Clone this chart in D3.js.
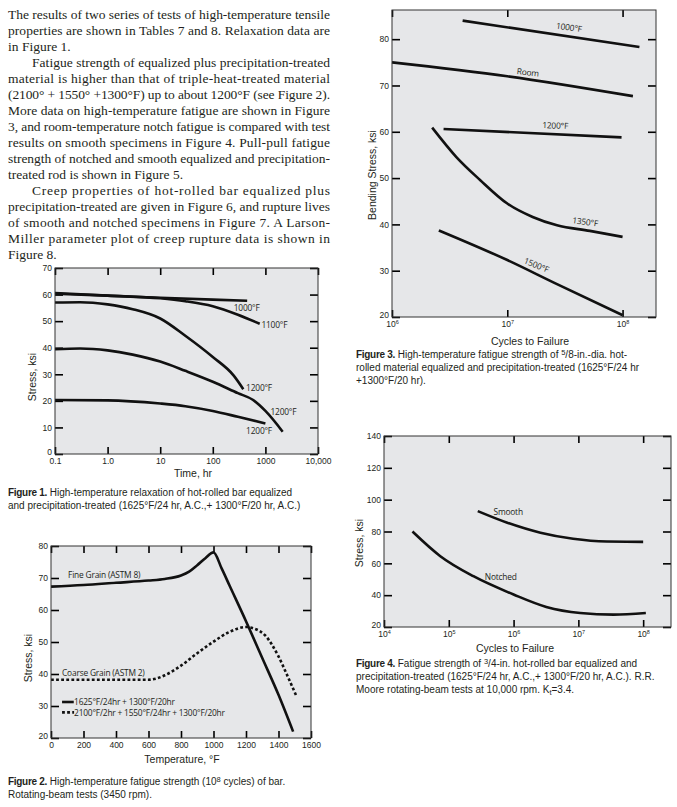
<!DOCTYPE html>
<html>
<head>
<meta charset="utf-8">
<script src="https://cdn.jsdelivr.net/npm/d3@7"></script>
<style>
  body { margin: 0; background: #fff; }
  text { fill: #231f20; }
  .tick text { font-family: "Liberation Sans", Arial, sans-serif; font-size: 8.5px; fill: #231f20; }
  .tick line { stroke: #000; stroke-width: 1.6; }
  .lbl { font-family: "Open Sans", sans-serif; font-size: 8.4px; letter-spacing: -0.2px; }
  .atitle { font-family: "Liberation Sans", Arial, sans-serif; font-size: 10.5px; }
  .cap { font-family: "Liberation Sans", Arial, sans-serif; font-size: 10px; }
  .body { font-family: "Liberation Serif", "Times New Roman", serif; font-size: 13.5px; }
</style>
</head>
<body>
<svg id="page" width="677" height="807"></svg>
<script>
// ---------- text ----------
const paragraphs = [
  ["The results of two series of tests of high-temperature tensile",
   "properties are shown in Tables 7 and 8. Relaxation data are",
   "in Figure 1."],
  ["Fatigue strength of equalized plus precipitation-treated",
   "material is higher than that of triple-heat-treated material",
   "(2100° + 1550° +1300°F) up to about 1200°F (see Figure 2).",
   "More data on high-temperature fatigue are shown in Figure",
   "3, and room-temperature notch fatigue is compared with test",
   "results on smooth specimens in Figure 4. Pull-pull fatigue",
   "strength of notched and smooth equalized and precipitation-",
   "treated rod is shown in Figure 5."],
  ["Creep properties of hot-rolled bar equalized plus",
   "precipitation-treated are given in Figure 6, and rupture lives",
   "of smooth and notched specimens in Figure 7. A Larson-",
   "Miller parameter plot of creep rupture data is shown in",
   "Figure 8."]
];

const cap1 = ["**Figure 1.** High-temperature relaxation of hot-rolled bar equalized",
              "and precipitation-treated (1625°F/24 hr, A.C.,+ 1300°F/20 hr, A.C.)"];
const cap2 = ["**Figure 2.** High-temperature fatigue strength (10^{8} cycles) of bar.",
              "Rotating-beam tests (3450 rpm)."];
const cap3 = ["**Figure 3.** High-temperature fatigue strength of ^{5}/8-in.-dia. hot-",
              "rolled material equalized and precipitation-treated (1625°F/24 hr",
              "+1300°F/20 hr)."];
const cap4 = ["**Figure 4.** Fatigue strength of ^{3}/4-in. hot-rolled bar equalized and",
              "precipitation-treated (1625°F/24 hr, A.C.,+ 1300°F/20 hr, A.C.). R.R.",
              "Moore rotating-beam tests at 10,000 rpm. K_{t}=3.4."];

// ---------- Figure 1: relaxation (time hr, stress ksi) ----------
const f1Ticks = [0.1, 1, 10, 100, 1000, 10000];
const f1TickLabels = ["0.1", "1.0", "10", "100", "1000", "10,000"];
const f1YTicks = [0, 10, 20, 30, 40, 50, 60, 70];
const relax1000 = [[0.1, 60.3], [1, 59.6], [10, 58.8], [100, 58.1], [450, 57.7]];
const relax1100 = [[0.1, 60.6], [1, 59.6], [10, 58.6], [30, 57.5], [100, 55.6], [300, 52.4], [780, 49]];
const relax1200a = [[0.1, 57], [0.3, 57.1], [1, 56.3], [3, 54.5], [10, 51], [30, 44.5], [100, 36.5], [250, 29.5], [380, 24.4]];
const relax1200b = [[0.1, 39.4], [0.3, 39.7], [1, 39], [3, 37.4], [10, 34.8], [30, 31.3], [100, 27.2], [300, 22.9], [575, 20.4], [1000, 16.2], [2130, 8.4]];
const relax1200c = [[0.1, 20.3], [1, 20.2], [10, 19], [30, 18], [100, 16.2], [300, 14], [1000, 11.5]];

// ---------- Figure 2: fatigue vs temperature ----------
const f2XTicks = [0, 200, 400, 600, 800, 1000, 1200, 1400, 1600];
const f2YTicks = [20, 30, 40, 50, 60, 70, 80];
const fineGrain = [[0, 67.3], [200, 67.8], [400, 68.5], [600, 69.2], [700, 69.7], [800, 70.8], [850, 72], [900, 74], [950, 76.2], [1000, 78],
                   [1050, 73], [1100, 67.5], [1200, 56.5], [1300, 45], [1400, 33.5], [1490, 22]];
const coarseGrain = [[0, 38.2], [600, 38.2], [650, 38.6], [700, 39.6], [800, 42.6], [900, 46.5], [1000, 50.1], [1100, 53.2], [1200, 54.7],
                     [1250, 54.2], [1315, 52.2], [1400, 45.5], [1450, 40], [1510, 33.1]];

// ---------- Figure 3: bending fatigue vs cycles ----------
const f3XTicks = [1e6, 1e7, 1e8];
const f3YTicks = [20, 30, 40, 50, 60, 70, 80];
const bend1000 = [[4.1e6, 84], [1.4e8, 78.3]];
const bendRoom = [[1e6, 75], [1e7, 72], [1.23e8, 67.7]];
const bend1200 = [[2.8e6, 60.6], [9.8e7, 58.8]];
const bend1350 = [[2.23e6, 60.9], [3.6e6, 54.6], [5.8e6, 49.6], [1e7, 44.5], [1.66e7, 41.6], [2.7e7, 39.8], [5.2e7, 38.6], [1e8, 37.3]];
const bend1500 = [[2.55e6, 38.7], [1e7, 32.3], [2.7e7, 27.1], [1e8, 20.4]];

// ---------- Figure 4: smooth vs notched ----------
const f4XTicks = [1e4, 1e5, 1e6, 1e7, 1e8];
const f4YTicks = [20, 40, 60, 80, 100, 120, 140];
const smooth = [[2.8e5, 92.8], [8e5, 85.5], [2.6e6, 79.2], [8.3e6, 75.4], [2.75e7, 73.7], [1e8, 73.5]];
const notched = [[2.75e4, 80], [7.4e4, 64.5], [2.4e5, 51.9], [1e6, 40.4], [3.2e6, 32.6], [1.07e7, 28.8], [3.5e7, 27.8], [1.1e8, 28.8]];

// ================= drawing =================
const svg = d3.select("#page");

// rich text: **bold**, ^{sup}, _{sub}
function rich(sel, str) {
  const parts = str.split(/(\*\*[^*]+\*\*|\^\{[^}]*\}|_\{[^}]*\})/).filter(s => s.length);
  let shift = 0;
  parts.forEach(p => {
    const t = sel.append("tspan");
    let dy = 0;
    if (p.startsWith("**")) {
      t.text(p.slice(2, -2)).attr("font-weight", "bold").attr("letter-spacing", "-0.3");
    } else if (p.startsWith("^{")) {
      t.text(p.slice(2, -1)).attr("font-size", "7.5px"); dy = -3.5;
    } else if (p.startsWith("_{")) {
      t.text(p.slice(2, -1)).attr("font-size", "7.5px"); dy = 2;
    } else {
      t.text(p);
    }
    if (dy - shift !== 0) t.attr("dy", dy - shift);
    shift = dy;
  });
}

// body paragraphs
let lineNo = 0;
paragraphs.forEach(par => {
  par.forEach((ln, i) => {
    const indent = i === 0 && lineNo > 0 ? 24 : 0;
    const t = svg.append("text").attr("class", "body")
      .attr("x", 8 + indent).attr("y", 19 + lineNo * 16).text(ln);
    if (i < par.length - 1) t.attr("textLength", 322 - indent).attr("lengthAdjust", "spacing");
    lineNo++;
  });
});

function caption(lines, x, y) {
  lines.forEach((ln, i) => {
    const t = svg.append("text").attr("class", "cap").attr("x", x).attr("y", y + i * 13);
    rich(t, ln);
  });
}

function panel(o) {
  const g = svg.append("g");
  const [x0, x1] = o.x.range(), [y1, y0] = o.y.range();
  g.append("rect").attr("x", x0).attr("y", y0).attr("width", x1 - x0).attr("height", y1 - y0).attr("fill", "#e6e7e9");

  const bottom = g.append("g").attr("transform", `translate(0,${y1})`)
    .call(d3.axisBottom(o.x).tickValues(o.xTicks).tickSize(-7).tickPadding(4).tickFormat(o.xFmt));
  g.append("g").attr("transform", `translate(0,${y0})`)
    .call(d3.axisTop(o.x).tickValues(o.xTicks).tickSize(-7).tickFormat(""));
  const left = g.append("g").attr("transform", `translate(${x0},0)`)
    .call(d3.axisLeft(o.y).tickValues(o.yTicks).tickSize(-8).tickPadding(3));
  g.append("g").attr("transform", `translate(${x1},0)`)
    .call(d3.axisRight(o.y).tickValues(o.yTicks).tickSize(-8).tickFormat(""));
  g.selectAll(".domain").remove();
  // lowest y label sits a little higher so it clears the first x label
  left.selectAll(".tick text").filter((d, i) => i === 0).attr("dy", "0.05em");
  if (o.pow) {
    bottom.selectAll(".tick text").each(function (d) {
      const t = d3.select(this).text("");
      t.append("tspan").text("10");
      t.append("tspan").text(Math.round(Math.log10(d))).attr("font-size", "5.5px").attr("dy", -3.5);
    });
  }

  const line = d3.line().x(d => o.x(d[0])).y(d => o.y(d[1])).curve(d3.curveMonotoneX);
  o.series.forEach(s => {
    g.append("path").attr("d", line(s.data)).attr("fill", "none").attr("stroke", "#111")
      .attr("stroke-width", 2.6).attr("stroke-dasharray", s.dash || null);
  });
  (o.labels || []).forEach(l => {
    const px = o.x(l.at[0]), py = o.y(l.at[1]);
    g.append("text").attr("class", "lbl").attr("x", px).attr("y", py)
      .attr("text-anchor", l.anchor || "start")
      .attr("transform", l.rot ? `rotate(${l.rot},${px},${py})` : null).text(l.text);
  });

  g.append("rect").attr("x", x0).attr("y", y0).attr("width", x1 - x0).attr("height", y1 - y0)
    .attr("fill", "none").attr("stroke", "#333").attr("stroke-width", 1);

  g.append("text").attr("class", "atitle").attr("text-anchor", "middle")
    .attr("x", o.xTitle[1]).attr("y", o.xTitle[2]).text(o.xTitle[0]);
  g.append("text").attr("class", "atitle").attr("text-anchor", "middle")
    .attr("transform", `translate(${o.yTitle[1]},${o.yTitle[2]}) rotate(-90)`).text(o.yTitle[0]);
  return g;
}

// Figure 1
const x1s = d3.scaleLog().domain([0.1, 10000]).range([55, 318]);
const y1s = d3.scaleLinear().domain([0, 70]).range([454, 268]);
panel({
  x: x1s, y: y1s, xTicks: f1Ticks, yTicks: f1YTicks,
  xFmt: (d, i) => f1TickLabels[i],
  series: [{ data: relax1000 }, { data: relax1100 }, { data: relax1200a }, { data: relax1200b }, { data: relax1200c }],
  labels: [
    { text: "1000°F", at: [250, 54] },
    { text: "1100°F", at: [840, 47.5] },
    { text: "1200°F", at: [430, 23.8] },
    { text: "1200°F", at: [1250, 14.7] },
    { text: "1200°F", at: [430, 7.5] }
  ],
  xTitle: ["Time, hr", 193, 477], yTitle: ["Stress, ksi", 36, 377]
});
caption(cap1, 8, 496);

// Figure 2
const x2s = d3.scaleLinear().domain([0, 1600]).range([51, 311]);
const y2s = d3.scaleLinear().domain([20, 80]).range([738, 546]);
const g2 = panel({
  x: x2s, y: y2s, xTicks: f2XTicks, yTicks: f2YTicks, xFmt: d3.format("d"),
  series: [{ data: fineGrain }, { data: coarseGrain, dash: "2.8,2.3" }],
  labels: [
    { text: "Fine Grain (ASTM 8)", at: [105, 70] },
    { text: "Coarse Grain (ASTM 2)", at: [68, 39.5] },
    { text: "1625°F/24hr + 1300°F/20hr", at: [142, 30.3] },
    { text: "2100°F/2hr + 1550°F/24hr + 1300°F/20hr", at: [142, 26.9] }
  ],
  xTitle: ["Temperature, °F", 182, 763], yTitle: ["Stress, ksi", 32, 658]
});
g2.append("line").attr("x1", x2s(68)).attr("x2", x2s(140)).attr("y1", y2s(31.25)).attr("y2", y2s(31.25))
  .attr("stroke", "#111").attr("stroke-width", 2.6);
g2.append("line").attr("x1", x2s(68)).attr("x2", x2s(142)).attr("y1", y2s(28)).attr("y2", y2s(28))
  .attr("stroke", "#111").attr("stroke-width", 2.6).attr("stroke-dasharray", "2.8,2.3");
caption(cap2, 8, 785);

// Figure 3
const x3s = d3.scaleLog().domain([1e6, 1.95e8]).range([392, 656]);
const y3s = d3.scaleLinear().domain([20, 86.3]).range([317, 10]);
panel({
  x: x3s, y: y3s, xTicks: f3XTicks, yTicks: f3YTicks, pow: true,
  series: [{ data: bend1000 }, { data: bendRoom }, { data: bend1200 }, { data: bend1350 }, { data: bend1500 }],
  labels: [
    { text: "1000°F", at: [3.4e7, 81.9], anchor: "middle", rot: 8 },
    { text: "Room", at: [1.5e7, 72.2], anchor: "middle", rot: 6 },
    { text: "1200°F", at: [2.6e7, 60.7], anchor: "middle", rot: 2 },
    { text: "1350°F", at: [4.7e7, 39.9], anchor: "middle", rot: 8 },
    { text: "1500°F", at: [1.75e7, 30.6], anchor: "middle", rot: 22 }
  ],
  xTitle: ["Cycles to Failure", 530, 345], yTitle: ["Bending Stress, ksi", 376, 175]
});
caption(cap3, 356, 358);

// Figure 4
const x4s = d3.scaleLog().domain([1e4, 2.69e8]).range([384, 671]);
const y4s = d3.scaleLinear().domain([20, 140]).range([627, 436]);
panel({
  x: x4s, y: y4s, xTicks: f4XTicks, yTicks: f4YTicks, pow: true,
  series: [{ data: smooth }, { data: notched }],
  labels: [
    { text: "Smooth", at: [4.9e5, 90.4] },
    { text: "Notched", at: [3.6e5, 49.6] }
  ],
  xTitle: ["Cycles to Failure", 515, 652], yTitle: ["Stress, ksi", 363, 543]
});
caption(cap4, 356, 667);
</script>
</body>
</html>
